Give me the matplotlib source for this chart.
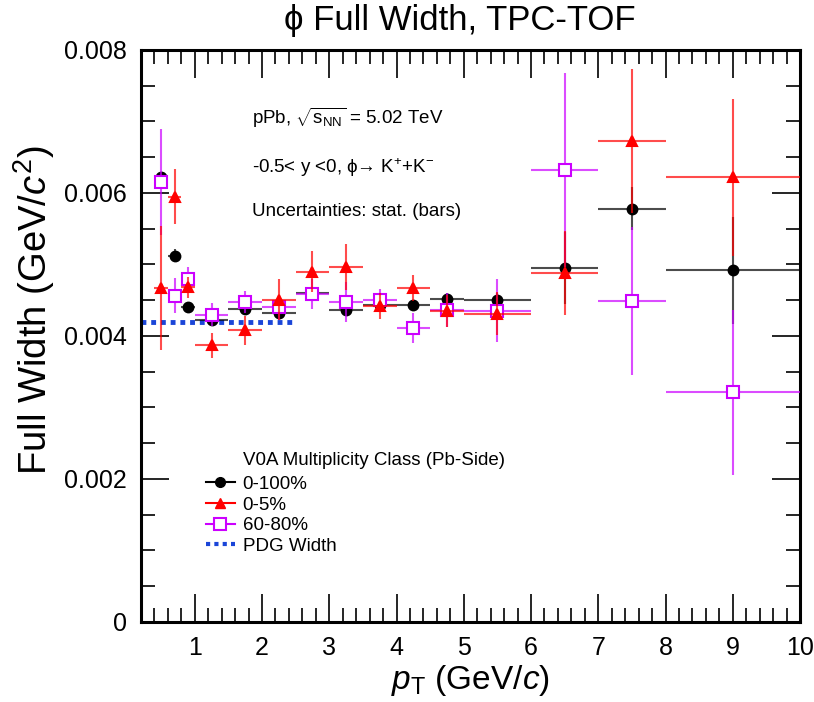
import numpy as np
import matplotlib
matplotlib.use("Agg")
import matplotlib.pyplot as plt
from matplotlib.lines import Line2D
from matplotlib.ticker import MultipleLocator

plt.rcParams['font.family'] = ['Liberation Sans', 'DejaVu Sans']
plt.rcParams['mathtext.fontset'] = 'custom'
plt.rcParams['mathtext.rm'] = 'Liberation Sans'
plt.rcParams['mathtext.it'] = 'Liberation Sans:italic'
plt.rcParams['mathtext.default'] = 'regular'

# pT bins
pt = [0.5, 0.7, 0.9, 1.25, 1.75, 2.25, 2.75, 3.25, 3.75, 4.25, 4.75, 5.5, 6.5, 7.5, 9.0]
pt_err = [0.1, 0.1, 0.1, 0.25, 0.25, 0.25, 0.25, 0.25, 0.25, 0.25, 0.25, 0.5, 0.5, 0.5, 1.0]

# widths (MeV/c^2 -> scaled to GeV/c^2 below)
w_all = [6.22, 5.12, 4.41, 4.22, 4.38, 4.32, 4.60, 4.36, 4.43, 4.43, 4.52, 4.50, 4.95, 5.78, 4.92]
e_all = [0.06, 0.09, 0.05, 0.04, 0.05, 0.05, 0.05, 0.06, 0.06, 0.07, 0.08, 0.10, 0.50, 0.30, 0.75]

w_05 = [4.67, 5.95, 4.68, 3.87, 4.08, 4.51, 4.90, 4.97, 4.42, 4.67, 4.35, 4.31, 4.88, 6.73, 6.22]
e_05 = [0.87, 0.39, 0.15, 0.175, 0.20, 0.28, 0.29, 0.32, 0.18, 0.18, 0.22, 0.30, 0.59, 1.01, 1.10]

w_6080 = [6.15, 4.56, 4.80, 4.30, 4.47, 4.40, 4.59, 4.47, 4.51, 4.11, 4.36, 4.35, 6.32, 4.49, 3.21]
e_6080 = [0.74, 0.245, 0.17, 0.16, 0.155, 0.17, 0.21, 0.28, 0.15, 0.21, 0.24, 0.44, 1.36, 1.04, 1.15]

pdg_width = 0.0042
pdg_range = [0.2, 2.5]

scale = 1e-3
magenta = '#cc00ff'
blue = '#1a45d8'

fig = plt.figure(figsize=(8.14, 7.02), dpi=100)
ax = fig.add_axes([0.1732, 0.114, 0.8096, 0.8148])

ax.plot(pdg_range, [pdg_width, pdg_width], color=blue, ls=(0, (1, 1)), lw=3.5, zorder=1)

series = [
    (w_all, e_all, 'k', 'o', 'k', 7),
    (w_6080, e_6080, magenta, 's', 'white', 8),
    (w_05, e_05, 'red', '^', 'red', 7.5),
]
for i, (w, e, c, m, fc, ms) in enumerate(series):
    eb = ax.errorbar(pt, np.array(w) * scale, xerr=pt_err, yerr=np.array(e) * scale,
                     fmt=m, color=c, mfc=fc, mec=c, mew=1.5, ms=ms,
                     elinewidth=1.5, capsize=0, zorder=3 + i)
    for lc in eb[2]:
        lc.set_alpha(0.7)

ax.set_xlim(0.2, 10)
ax.set_ylim(0, 0.008)
ax.set_yticks([0, 0.002, 0.004, 0.006, 0.008])
ax.set_yticklabels(['0', '0.002', '0.004', '0.006', '0.008'])
ax.set_xticks(range(1, 11))
ax.xaxis.set_minor_locator(MultipleLocator(0.2))
ax.yaxis.set_minor_locator(MultipleLocator(0.0005))
ax.tick_params(which='both', direction='in', top=True, right=True, labelsize=18, width=1.2)
ax.tick_params(which='major', length=20, pad=10)
ax.tick_params(which='minor', length=10)
for sp in ax.spines.values():
    sp.set_linewidth(2.2)

ax.set_xlabel('$\\mathit{p}_{\\rm T}$ (GeV/$\\mathit{c}$)', fontsize=24, labelpad=2)
ax.set_ylabel('Full Width (GeV/$\\mathit{c}^{2}$)', fontsize=27.5)
ax.yaxis.set_label_coords(-0.127, 0.545)

fig.text(0.565, 0.995, '\u03d5 Full Width, TPC-TOF', fontsize=25, ha='center', va='top')

ax.text(0.168, 0.881, 'pPb, $\\sqrt{s_{NN}}$ = 5.02 TeV', transform=ax.transAxes, fontsize=13.5, va='center')
ax.text(0.168, 0.794, '-0.5< y <0, \u03d5\u2192 K$^{+}$+K$^{-}$', transform=ax.transAxes, fontsize=13.5, va='center')
ax.text(0.168, 0.717, 'Uncertainties: stat. (bars)', transform=ax.transAxes, fontsize=13.5, va='center')

ax.text(0.155, 0.283, 'V0A Multiplicity Class (Pb-Side)', transform=ax.transAxes, fontsize=13.5, va='center')
handles = [
    Line2D([0], [0], color='k', marker='o', ms=7, lw=1.5),
    Line2D([0], [0], color='red', marker='^', ms=7.5, lw=1.5),
    Line2D([0], [0], color=magenta, marker='s', mfc='white', mew=1.5, ms=8, lw=1.5),
    Line2D([0], [0], color=blue, ls=(0, (1, 1)), lw=3),
]
labels = ['0-100%', '0-5%', '60-80%', 'PDG Width']
ax.legend(handles, labels, loc='upper left', bbox_to_anchor=(0.0986, 0.2555), frameon=False,
          fontsize=13.5, handlelength=1.55, handletextpad=0.4, labelspacing=0.19,
          borderpad=0, borderaxespad=0)

fig.savefig('out.png', dpi=100)
